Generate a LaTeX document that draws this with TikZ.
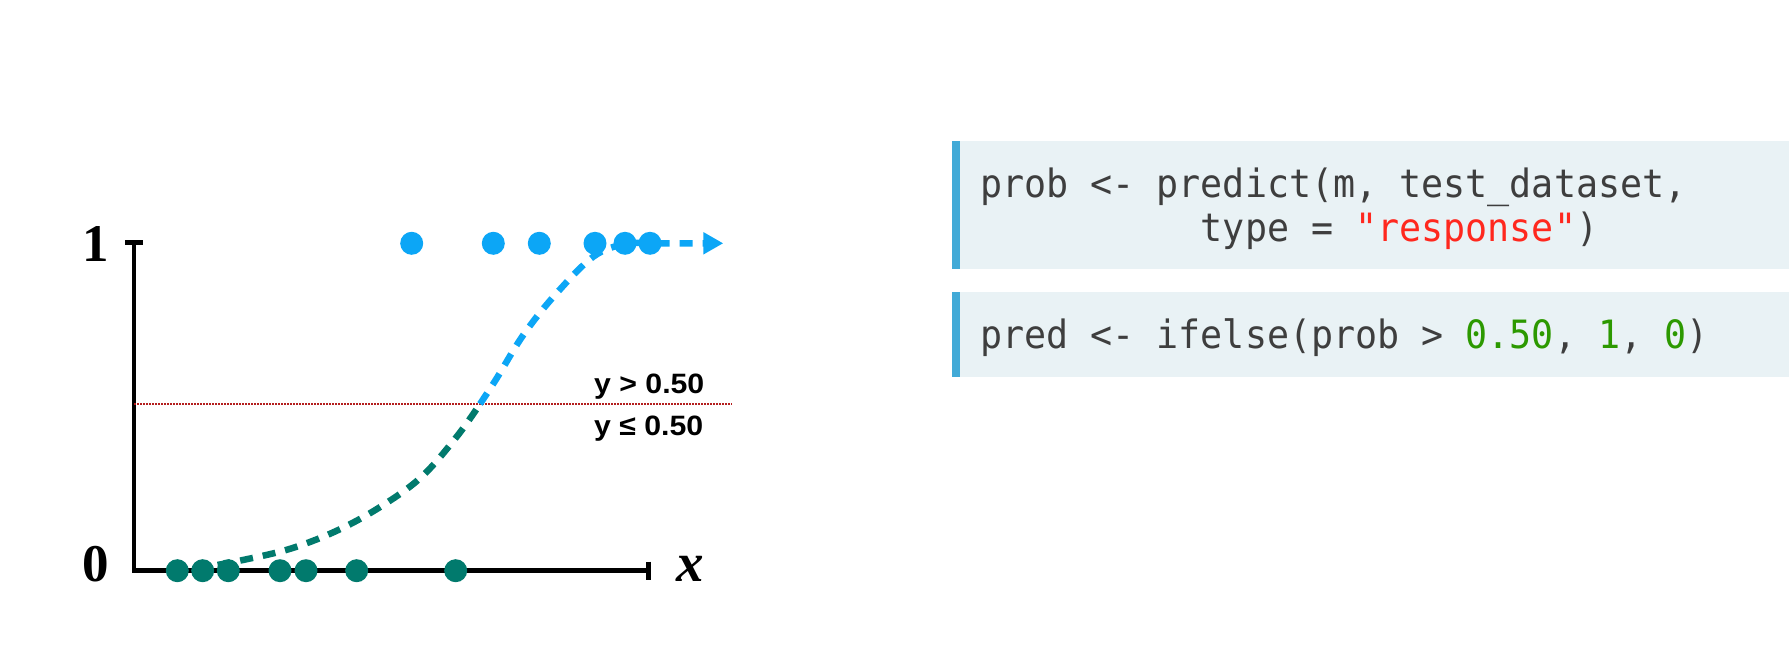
\documentclass[tikz,border=0pt]{standalone}
\usepackage{fontspec}
\setmainfont{Liberation Serif}
\newfontfamily\codefont[FakeStretch=0.94]{DejaVu Sans Mono}
\newfontfamily\labfont[FakeStretch=1.08]{Liberation Sans}
\usetikzlibrary{arrows.meta}
\definecolor{curveteal}{RGB}{1,122,109}
\definecolor{curveblue}{RGB}{12,166,246}
\definecolor{threshred}{RGB}{180,30,30}
\definecolor{codebg}{RGB}{233,242,245}
\definecolor{codebar}{RGB}{66,170,215}
\definecolor{codegray}{RGB}{62,62,62}
\definecolor{codered}{RGB}{255,40,30}
\definecolor{codegreen}{RGB}{44,153,0}
\tikzset{
  axisline/.style={line width=4.5pt, black},
  tealdot/.style={circle, fill=curveteal, inner sep=0pt, minimum size=23pt},
  bluedot/.style={circle, fill=curveblue, inner sep=0pt, minimum size=23pt},
  curvedash/.style={line width=6.5pt, dash pattern=on 13pt off 10pt},
  codetext/.style={anchor=base west, inner sep=0pt, text=codegray, font=\codefont\fontsize{39}{43}\selectfont},
  lab/.style={anchor=base west, inner sep=0pt, font=\labfont\bfseries\fontsize{28}{28}\selectfont},
  axlab/.style={anchor=base, inner sep=0pt, font=\bfseries\fontsize{53}{53}\selectfont}
}
\begin{document}
\begin{tikzpicture}[x=1pt,y=-1pt]
\frenchspacing
\useasboundingbox[fill=white] (0,0) rectangle (1789,658);

% ---- plot ----
\coordinate (ytop) at (134,242.7);
\coordinate (orig) at (134,570.7);
\coordinate (xend) at (648.3,570.7);
\draw[axisline] (ytop) -- (orig) -- (xend);
\draw[axisline] (125,242.7) -- (143.3,242.7);
\draw[axisline] (648.3,561.7) -- (648.3,580);

\coordinate (thl) at (134,404);
\coordinate (thr) at (731.7,404);
\draw[threshred, line width=1.5pt, dash pattern=on 1.5pt off 1.5pt] (thl) -- (thr);

\node[axlab] (one) at (96,261.5) {1};
\node[axlab] (zero) at (96,581) {0};
\node[anchor=base, inner sep=0pt, font=\bfseries\itshape\fontsize{55}{55}\selectfont] (xlab) at (690,581) {x};

\node[lab] (gt) at (594,393.3) {y > 0.50};
\node[lab] (le) at (594,435) {y ≤ 0.50};

% sigmoid curve
\draw[curveteal, curvedash] plot[smooth, tension=0.6] coordinates {
  (195,569) (243,560) (291.7,548.3) (338.3,530) (381.7,506) (421.7,476.7) (456.7,436.7) (480,404)};
\coordinate (arrtip) at (723.3,243.3);
\draw[curveblue, curvedash, -{Triangle[length=20pt, width=21pt]}] plot[smooth, tension=0.6] coordinates {
  (480,404) (496.7,378.3) (523.3,335) (555,295) (593.3,256.7) (625,244) (650,243.3)} -- (arrtip);

% data points
\foreach \x [count=\i] in {177.3,202.7,228.3,280,306,356.7,455.7}
  \node[tealdot] (t\i) at (\x,570.7) {};
\foreach \x [count=\i] in {411.7,493.3,539.3,595,625,650}
  \node[bluedot] (b\i) at (\x,243.3) {};

% ---- code boxes ----
\fill[codebg] (952,141) rectangle (1789,269.3);
\fill[codebar] (952,141) rectangle (960,269.3);
\fill[codebg] (952,292.3) rectangle (1789,376.7);
\fill[codebar] (952,292.3) rectangle (960,376.7);

\node[codetext] (c1) at (980,197.3) {prob <- predict(m, test\_dataset,};
\node[codetext] (c2) at (1200.7,241.2) {type = \textcolor{codered}{"response"})};
\node[codetext] (c3) at (980,348) {pred <- ifelse(prob > \textcolor{codegreen}{0.50}, \textcolor{codegreen}{1}, \textcolor{codegreen}{0})};
\end{tikzpicture}
\end{document}
